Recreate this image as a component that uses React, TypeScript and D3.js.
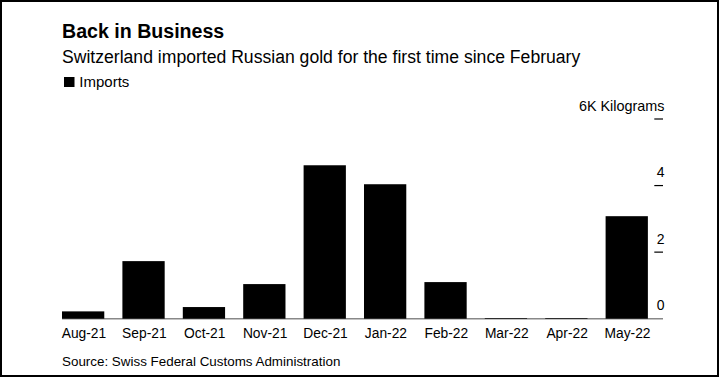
import React from "react";
import * as d3 from "d3";

const months = ["Aug-21", "Sep-21", "Oct-21", "Nov-21", "Dec-21", "Jan-22", "Feb-22", "Mar-22", "Apr-22", "May-22"];
const imports = [0.22, 1.73, 0.35, 1.04, 4.61, 4.04, 1.1, 0.02, 0.02, 3.08];
const yTicks = [0, 2, 4, 6];
const yTickLabels = ["0", "2", "4", "6K Kilograms"];

const W = 721;
const H = 378;
const FONT = "'Liberation Sans', Arial, Helvetica, sans-serif";

export default function App() {
  const x = d3
    .scaleBand<string>()
    .domain(months)
    .range([62, 62 + 60.4 * 9.7])
    .paddingInner(0.3)
    .paddingOuter(0);
  const y = d3.scaleLinear().domain([0, 6]).range([318.7, 119]);

  return (
    <div style={{ position: "absolute", left: 0, top: 0 }}>
      <svg width={W} height={H} style={{ display: "block", fontFamily: FONT }}>
        <rect x={0} y={0} width={W} height={H} fill="#fff" />
        <rect x={1} y={1} width={717} height={375} fill="none" stroke="#000" strokeWidth={2} />

        <text x={62} y={38.3} fontSize={19.6} fontWeight="bold" fill="#000">
          Back in Business
        </text>
        <text x={62} y={62.7} fontSize={17.6} fill="#000">
          Switzerland imported Russian gold for the first time since February
        </text>
        <rect x={64} y={77} width={10.5} height={10} fill="#000" />
        <text x={79.3} y={86.7} fontSize={15} fill="#000">
          Imports
        </text>

        {/* y ticks */}
        {yTicks.map((t, i) => (
          <g key={t}>
            {t !== 0 && (
              <line x1={654.3} x2={663} y1={y(t)} y2={y(t)} stroke="#000" strokeWidth={1.2} />
            )}
            <text
              x={664.5}
              y={y(t) - 8.3}
              fontSize={i === yTicks.length - 1 ? 14.4 : 14}
              textAnchor="end"
              fill="#000"
            >
              {yTickLabels[i]}
            </text>
          </g>
        ))}

        {/* baseline */}
        <line x1={62} x2={663} y1={y(0)} y2={y(0)} stroke="#888" strokeWidth={1.6} />

        {/* bars */}
        {months.map((m, i) => (
          <rect
            key={m}
            x={x(m)}
            y={y(imports[i])}
            width={x.bandwidth()}
            height={Math.max(0, y(0) - y(imports[i]))}
            fill="#000"
          />
        ))}

        {/* x labels */}
        {months.map((m) => (
          <text
            key={m}
            x={(x(m) as number) + x.bandwidth() / 2 + 0.8}
            y={338.3}
            fontSize={13.8}
            textAnchor="middle"
            fill="#000"
          >
            {m}
          </text>
        ))}

        <text x={62} y={365.5} fontSize={13.4} fill="#000">
          Source: Swiss Federal Customs Administration
        </text>
      </svg>
    </div>
  );
}
